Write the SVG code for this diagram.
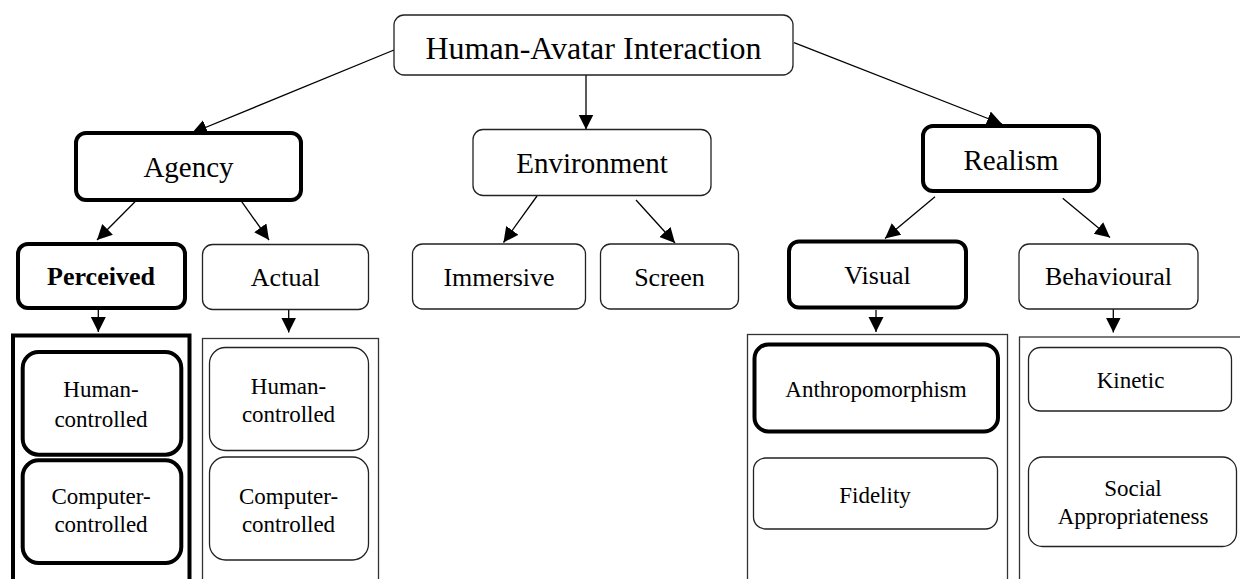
<svg xmlns="http://www.w3.org/2000/svg" width="1240" height="579" viewBox="0 0 1240 579">
<style>
  .thin { fill: #fff; stroke: #222; stroke-width: 1.3; }
  .thick { fill: #fff; stroke: #000; stroke-width: 4; }
  .cont { fill: none; stroke: #333; stroke-width: 1.3; }
  .contk { fill: none; stroke: #000; stroke-width: 4; }
  text { font-family: "Liberation Serif", "Times New Roman", serif; fill: #000; text-anchor: middle; }
  .t32 { font-size: 32px; }
  .t29 { font-size: 29px; }
  .t26 { font-size: 26px; }
  .t23 { font-size: 23px; }
  .b { font-weight: bold; }
  .conn line { stroke: #000; stroke-width: 1.3; marker-end: url(#ah); }
</style>
<defs>
  <marker id="ah" markerUnits="userSpaceOnUse" markerWidth="16" markerHeight="16" refX="15" refY="7.5" orient="auto">
    <path d="M0,0 L15,7.5 L0,15 z" fill="#000"/>
  </marker>
</defs>
<rect width="1240" height="579" fill="#fff"/>

<g id="containers">
  <rect id="perceived-group" class="contk" x="13" y="335.5" width="176.5" height="300"/>
  <rect id="actual-group" class="cont" x="202.5" y="338.5" width="176" height="300"/>
  <rect id="visual-group" class="cont" x="747.5" y="334.5" width="260" height="300"/>
  <rect id="behavioural-group" class="cont" x="1019.5" y="337" width="300" height="300"/>
</g>

<g class="conn" id="connectors">
  <line x1="394" y1="50" x2="192" y2="133"/>
  <line x1="586" y1="75" x2="586" y2="129.5"/>
  <line x1="794" y1="42.7" x2="1002" y2="124"/>
  <line x1="135" y1="201.7" x2="97" y2="240"/>
  <line x1="241.7" y1="201.7" x2="269" y2="240"/>
  <line x1="537" y1="196" x2="503.5" y2="242.5"/>
  <line x1="636" y1="200" x2="675" y2="243"/>
  <line x1="935" y1="196.7" x2="885" y2="238.5"/>
  <line x1="1062.7" y1="198.3" x2="1110" y2="237.5"/>
  <line x1="98.3" y1="310" x2="98.3" y2="332"/>
  <line x1="288.7" y1="309.5" x2="288.7" y2="332.5"/>
  <line x1="876" y1="310" x2="876" y2="332"/>
  <line x1="1113.3" y1="309" x2="1113.3" y2="332.5"/>
</g>

<g id="root">
  <rect class="thin" x="394" y="15" width="399" height="60" rx="10"/>
  <text class="t32" x="593.5" y="59">Human-Avatar Interaction</text>
</g>
<g id="agency">
  <rect class="thick" x="76" y="133" width="225" height="67" rx="10"/>
  <text class="t29" x="188.5" y="177">Agency</text>
</g>
<g id="environment">
  <rect class="thin" x="473" y="129.5" width="238" height="66" rx="10"/>
  <text class="t29" x="592" y="173.3">Environment</text>
</g>
<g id="realism">
  <rect class="thick" x="923" y="126" width="176" height="65" rx="10"/>
  <text class="t29" x="1011" y="170">Realism</text>
</g>
<g id="perceived">
  <rect class="thick" x="18" y="244" width="167" height="64" rx="10"/>
  <text class="t26 b" x="101" y="285">Perceived</text>
</g>
<g id="actual">
  <rect class="thin" x="202.5" y="244.5" width="166" height="65" rx="10"/>
  <text class="t26" x="285.5" y="285.7">Actual</text>
</g>
<g id="immersive">
  <rect class="thin" x="412.5" y="244" width="173" height="65" rx="10"/>
  <text class="t26" x="499" y="285.7">Immersive</text>
</g>
<g id="screen">
  <rect class="thin" x="600.5" y="244" width="138" height="65" rx="10"/>
  <text class="t26" x="669.5" y="285.7">Screen</text>
</g>
<g id="visual">
  <rect class="thick" x="789" y="241.5" width="177" height="66" rx="10"/>
  <text class="t26" x="877.5" y="283.5">Visual</text>
</g>
<g id="behavioural">
  <rect class="thin" x="1019" y="244" width="179" height="65" rx="10"/>
  <text class="t26" x="1108.5" y="285">Behavioural</text>
</g>

<g id="perceived-human">
  <rect class="thick" x="22.7" y="352" width="158.6" height="102.7" rx="16"/>
  <text class="t23" x="101" y="397.3">Human-</text>
  <text class="t23" x="101" y="426.7">controlled</text>
</g>
<g id="perceived-computer">
  <rect class="thick" x="22.7" y="460.3" width="158.6" height="102.7" rx="16"/>
  <text class="t23" x="101" y="504">Computer-</text>
  <text class="t23" x="101" y="532.3">controlled</text>
</g>
<g id="actual-human">
  <rect class="thin" x="209.5" y="347.5" width="159" height="103" rx="16"/>
  <text class="t23" x="288.5" y="394">Human-</text>
  <text class="t23" x="288.5" y="422">controlled</text>
</g>
<g id="actual-computer">
  <rect class="thin" x="209.5" y="457" width="159" height="103" rx="16"/>
  <text class="t23" x="288.5" y="504">Computer-</text>
  <text class="t23" x="288.5" y="531.7">controlled</text>
</g>
<g id="anthropomorphism">
  <rect class="thick" x="754.5" y="344.5" width="243.5" height="87" rx="14"/>
  <text class="t23" x="876" y="396.7">Anthropomorphism</text>
</g>
<g id="fidelity">
  <rect class="thin" x="753.5" y="458" width="244" height="71" rx="12"/>
  <text class="t23" x="875" y="502.7">Fidelity</text>
</g>
<g id="kinetic">
  <rect class="thin" x="1028.5" y="347.5" width="203" height="63.5" rx="12"/>
  <text class="t23" x="1130.5" y="388.3">Kinetic</text>
</g>
<g id="social">
  <rect class="thin" x="1028.5" y="457" width="208" height="89.5" rx="14"/>
  <text class="t23" x="1133" y="495.7">Social</text>
  <text class="t23" x="1133" y="524.3">Appropriateness</text>
</g>
</svg>
